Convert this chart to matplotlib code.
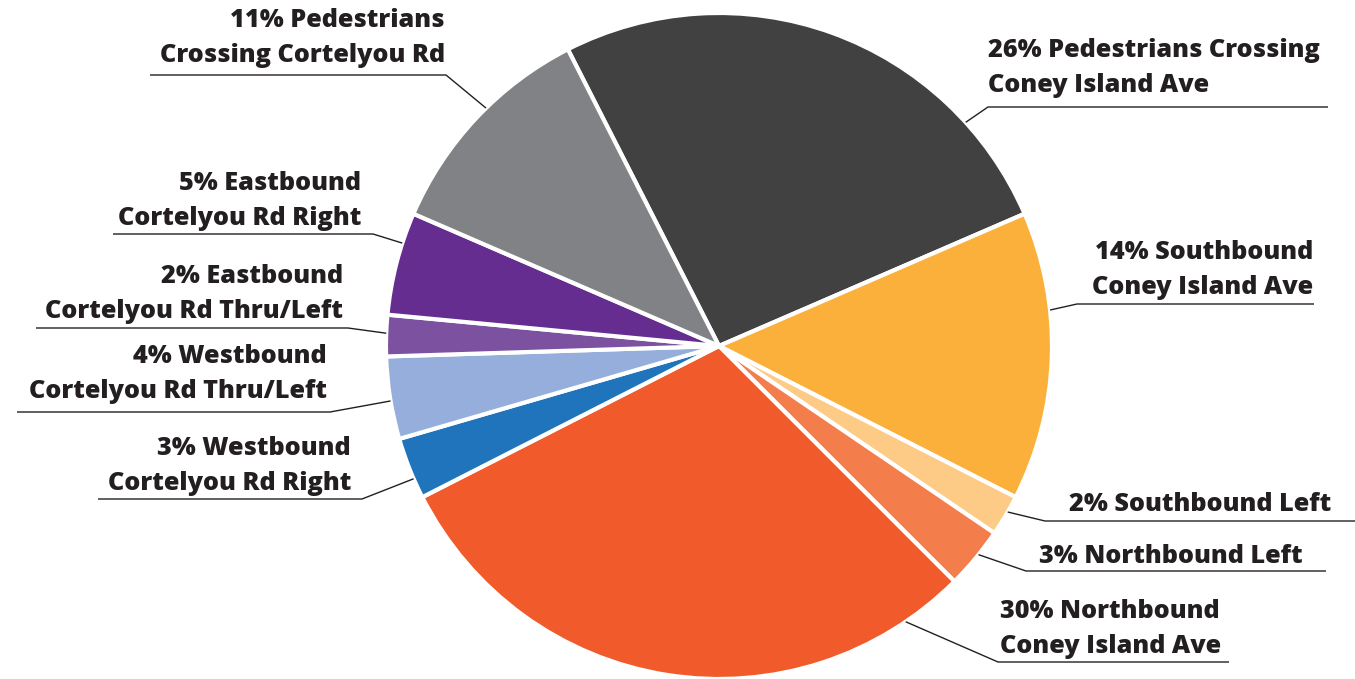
import numpy as np
import matplotlib
matplotlib.use("Agg")
import matplotlib.pyplot as plt

# Share of intersection users by movement (percent)
shares = [26, 14, 2, 3, 30, 3, 4, 2, 5, 11]
label_lines = [
    ["26% Pedestrians Crossing", "Coney Island Ave"],
    ["14% Southbound", "Coney Island Ave"],
    ["2% Southbound Left"],
    ["3% Northbound Left"],
    ["30% Northbound", "Coney Island Ave"],
    ["3% Westbound", "Cortelyou Rd Right"],
    ["4% Westbound", "Cortelyou Rd Thru/Left"],
    ["2% Eastbound", "Cortelyou Rd Thru/Left"],
    ["5% Eastbound", "Cortelyou Rd Right"],
    ["11% Pedestrians", "Crossing Cortelyou Rd"],
]
colors = ["#414142", "#FAB03B", "#FDCB86", "#F37D4B", "#F15A2B",
          "#1F74BB", "#95AEDB", "#7C51A0", "#652D90", "#808285"]

W, H = 1355, 679
cx, cy, r = 719, 346, 333
ink = "#231F20"

# label layout in pixels: rim angle of leader, elbow, line end, text x, first baseline, align
layout = [
    (42.2, (988, 107), 1328, 988, 57, "left"),
    (6.2, (1077, 304), 1314, 1313, 259, "right"),
    (-29.9, (1045, 521), 1355, 1200, 511, "center"),
    (-38.8, (1026, 571), 1326, 1171, 563, "center"),
    (-55.9, (998, 662), 1229, 1000, 618, "left"),
    (203.5, (362, 499), 98, 351, 455, "right"),
    (189.5, (330, 412), 17, 327, 363, "right"),
    (177.8, (348, 328), 36, 343, 283, "right"),
    (162.0, (373, 234), 113, 361, 190, "right"),
    (134.4, (446, 75), 150, 445, 27, "right"),
]

fig = plt.figure(figsize=(W / 100, H / 100), dpi=100)
ax = fig.add_axes([0, 0, 1, 1])

ax.pie(shares, colors=colors, startangle=117, counterclock=False,
       center=(cx, H - cy), radius=r,
       wedgeprops=dict(edgecolor="white", linewidth=3))

ax.set_xlim(0, W)
ax.set_ylim(0, H)
ax.set_aspect("equal")
ax.axis("off")

for lines, (ang, (ex, ey), xend, tx, base, ha) in zip(label_lines, layout):
    a = np.deg2rad(ang)
    px, py = cx + r * np.cos(a), cy - r * np.sin(a)
    ax.plot([px, ex, xend], [H - py, H - ey, H - ey], color=ink, lw=1.0,
            solid_capstyle="butt")
    for i, line in enumerate(lines):
        ax.text(tx, H - (base + 35 * i), line, ha=ha, va="baseline",
                fontsize=18.2, fontweight=800, family="Open Sans", color=ink)

fig.savefig("out.png", dpi=100)
